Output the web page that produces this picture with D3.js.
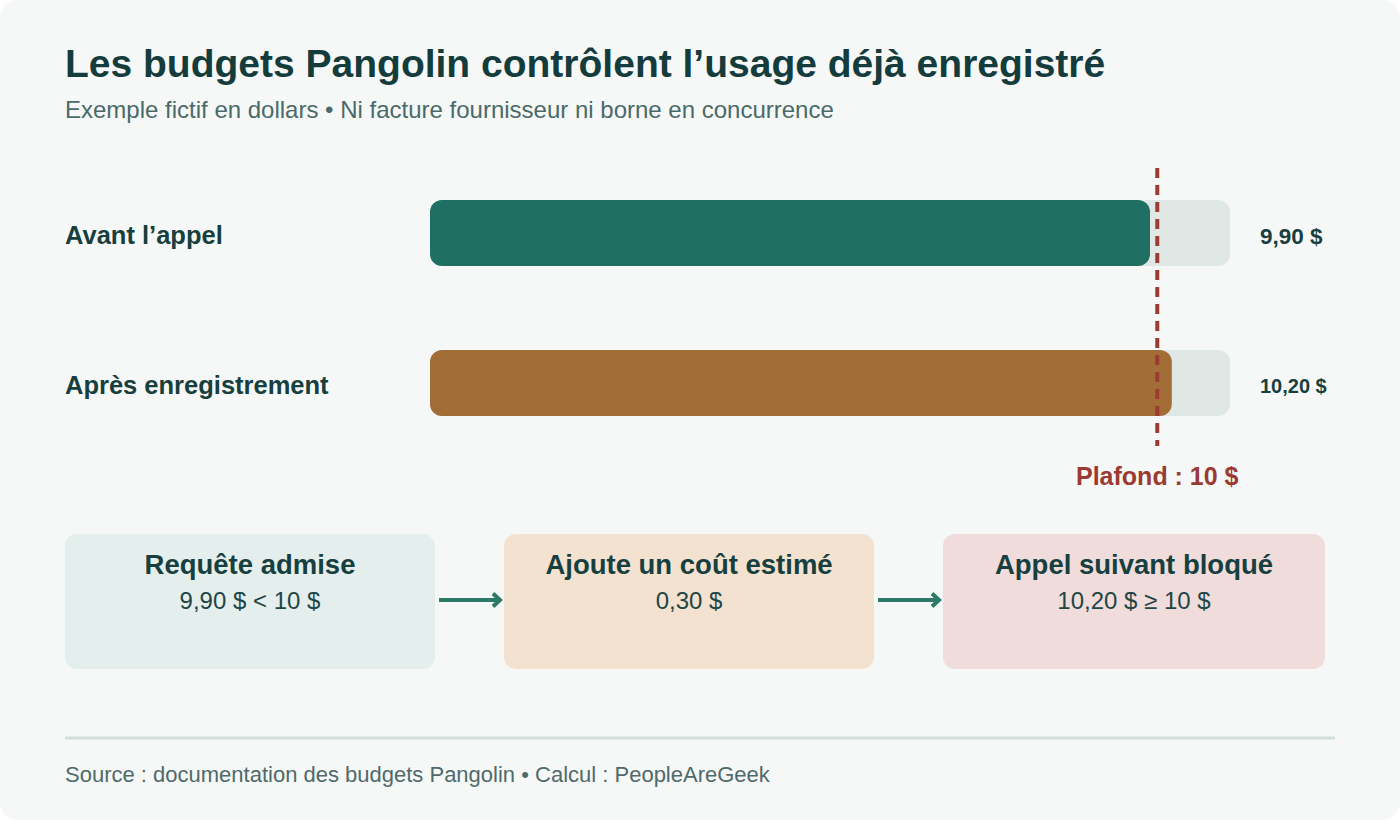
<!DOCTYPE html>
<html><head><meta charset="utf-8">
<script src="https://cdn.jsdelivr.net/npm/d3@7"></script>
<style>
html,body{margin:0;padding:0;background:#ffffff;}
svg{display:block;font-family:"Liberation Sans",Arial,Helvetica,sans-serif;}
</style></head><body>
<svg id="c" width="1400" height="820"></svg>
<script>
const title = "Les budgets Pangolin contrôlent l’usage déjà enregistré";
const subtitle = "Exemple fictif en dollars • Ni facture fournisseur ni borne en concurrence";
const categories = ["Avant l’appel", "Après enregistrement"];
const values = [9.90, 10.20];
const valueLabels = ["9,90 $", "10,20 $"];
const barColors = ["#1f6f62", "#a36d38"];
const cap = 10;
const capLabel = "Plafond : 10 $";
const scaleMax = 11;
const stepTitles = ["Requête admise", "Ajoute un coût estimé", "Appel suivant bloqué"];
const stepTexts = ["9,90 $ < 10 $", "0,30 $", "10,20 $ ≥ 10 $"];
const stepFills = ["#e4eeec", "#f2e2cf", "#f0dcda"];
const source = "Source : documentation des budgets Pangolin • Calcul : PeopleAreGeek";

const svg = d3.select("#c");
svg.append("rect").attr("x",0).attr("y",0).attr("width",1400).attr("height",820).attr("rx",18).attr("fill","#f6f8f7");

svg.append("text").attr("x",65).attr("y",77).attr("font-size",39).attr("font-weight","bold").attr("fill","#143c3d").text(title);
svg.append("text").attr("x",65).attr("y",118).attr("font-size",24).attr("fill","#4a6a6a").text(subtitle);

const x = d3.scaleLinear().domain([0, scaleMax]).range([430, 1230]);
const y = d3.scalePoint().domain(categories).range([233, 383]);
const bh = 66;

const g = svg.append("g");
g.selectAll("rect.track").data(categories).join("rect").attr("class","track")
  .attr("x", x(0)).attr("y", d=>y(d)-bh/2).attr("width", x(scaleMax)-x(0)).attr("height", bh)
  .attr("rx",12).attr("fill","#e0e8e5");
g.selectAll("rect.bar").data(values).join("rect").attr("class","bar")
  .attr("x", x(0)).attr("y", (d,i)=>y(categories[i])-bh/2).attr("width", d=>x(d)-x(0)).attr("height", bh)
  .attr("rx",12).attr("fill",(d,i)=>barColors[i]);
g.selectAll("text.cat").data(categories).join("text").attr("class","cat")
  .attr("x",65).attr("y", d=>y(d)+11).attr("font-size",25.5).attr("font-weight","bold").attr("fill","#173f40").text(d=>d);
g.selectAll("text.val").data(valueLabels).join("text").attr("class","val")
  .attr("x",1260).attr("y",(d,i)=>y(categories[i])+ (i===0?11:10)).attr("font-size",(d,i)=>i===0?22.5:20).attr("font-weight","bold").attr("fill","#173f40").text(d=>d);

svg.append("line").attr("x1",x(cap)).attr("x2",x(cap)).attr("y1",168).attr("y2",446)
  .attr("stroke","#9b3b33").attr("stroke-width",4).attr("stroke-dasharray","10,7");
svg.append("text").attr("x",x(cap)).attr("y",485).attr("text-anchor","middle").attr("font-size",25).attr("font-weight","bold").attr("fill","#9b3a32").text(capLabel);

// steps
const boxX = [65, 504, 943];
const boxW = [370, 370, 382];
const sg = svg.append("g");
stepTitles.forEach((t,i)=>{
  sg.append("rect").attr("x",boxX[i]).attr("y",534).attr("width",boxW[i]).attr("height",135).attr("rx",12).attr("fill",stepFills[i]);
  sg.append("text").attr("x",boxX[i]+boxW[i]/2).attr("y",574).attr("text-anchor","middle").attr("font-size",27.5).attr("font-weight","bold").attr("fill","#173f40").text(t);
  sg.append("text").attr("x",boxX[i]+boxW[i]/2).attr("y",609).attr("text-anchor","middle").attr("font-size",24).attr("fill","#1f4545").text(stepTexts[i]);
});
svg.append("defs").append("marker").attr("id","ah").attr("viewBox","-10 -10 20 20").attr("refX",0).attr("refY",0)
  .attr("markerWidth",20).attr("markerHeight",20).attr("orient","auto").attr("markerUnits","userSpaceOnUse")
  .append("path").attr("d","M-7,-6.5 L0,0 L-7,6.5").attr("fill","none").attr("stroke","#2e7a68").attr("stroke-width",4);
[[439,500],[878,939]].forEach(a=>{
  svg.append("line").attr("x1",a[0]).attr("x2",a[1]).attr("y1",600).attr("y2",600)
   .attr("stroke","#2e7a68").attr("stroke-width",4).attr("marker-end","url(#ah)");
});

svg.append("line").attr("x1",65).attr("x2",1335).attr("y1",738).attr("y2",738).attr("stroke","#cfdedc").attr("stroke-width",3);
svg.append("text").attr("x",65).attr("y",782).attr("font-size",22).attr("fill","#4f6a6a").text(source);
</script></body></html>
